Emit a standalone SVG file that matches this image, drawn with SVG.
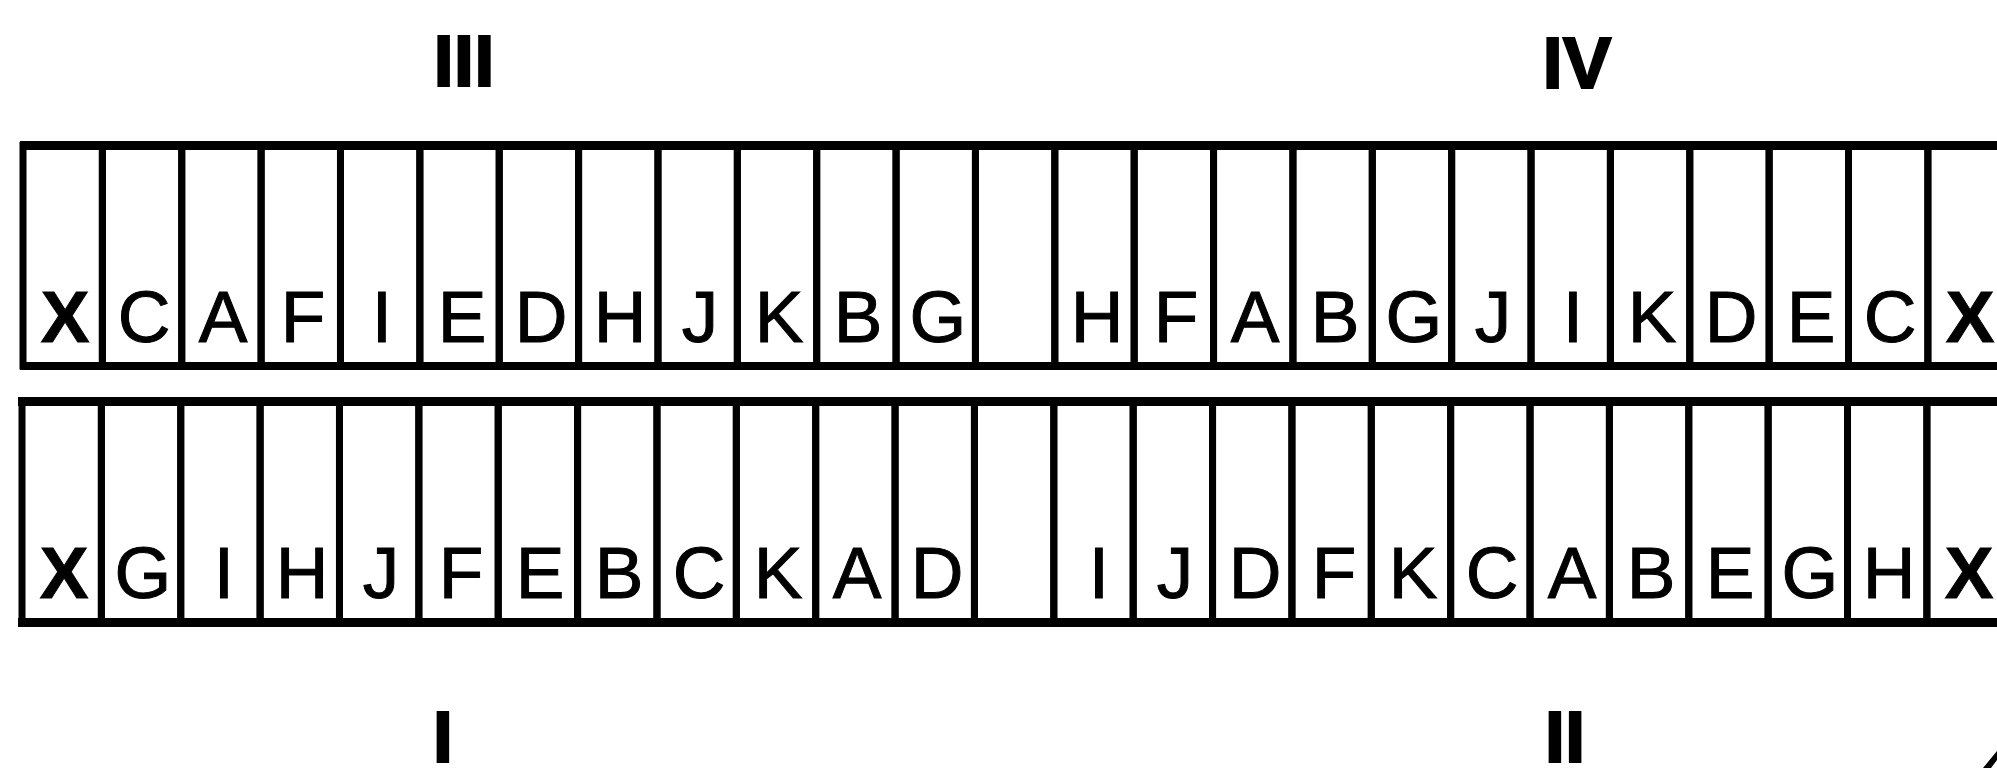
<svg xmlns="http://www.w3.org/2000/svg" width="1997" height="768" viewBox="0 0 1997 768">
<style>
.cell{fill:none;stroke:#000;stroke-width:7}
.band{fill:#000}
.lbl{font-family:"Liberation Sans",Arial,sans-serif;font-size:73px;text-anchor:middle;fill:#000;stroke:#000;stroke-width:1}
.bx{font-weight:bold}
.num{font-family:"Liberation Sans",Arial,sans-serif;font-size:73px;font-weight:bold;text-anchor:middle;fill:#000;stroke:#000;stroke-width:2}
</style>
<rect width="1997" height="768" fill="#fff"/>
<g id="labels">
<text class="num" x="464" y="86">III</text>
<text class="num" x="1577" y="88">IV</text>
<text class="num" x="443" y="762">I</text>
<text class="num" x="1565" y="762">II</text>
</g>
<g id="strip-top">
<rect class="band" x="20" y="141" width="1990" height="9"/>
<rect class="band" x="20" y="362" width="1990" height="8"/>
<g id="t1"><rect class="cell" x="23" y="145.5" width="79.37" height="220.5"/><text class="lbl bx" x="65" y="342">X</text></g>
<g id="t2"><rect class="cell" x="102.37" y="145.5" width="79.37" height="220.5"/><text class="lbl" x="144" y="342">C</text></g>
<g id="t3"><rect class="cell" x="181.74" y="145.5" width="79.37" height="220.5"/><text class="lbl" x="223" y="342">A</text></g>
<g id="t4"><rect class="cell" x="261.11" y="145.5" width="79.37" height="220.5"/><text class="lbl" x="303" y="342">F</text></g>
<g id="t5"><rect class="cell" x="340.48" y="145.5" width="79.37" height="220.5"/><text class="lbl" x="382" y="342">I</text></g>
<g id="t6"><rect class="cell" x="419.85" y="145.5" width="79.37" height="220.5"/><text class="lbl" x="462" y="342">E</text></g>
<g id="t7"><rect class="cell" x="499.22" y="145.5" width="79.37" height="220.5"/><text class="lbl" x="541" y="342">D</text></g>
<g id="t8"><rect class="cell" x="578.59" y="145.5" width="79.37" height="220.5"/><text class="lbl" x="620" y="342">H</text></g>
<g id="t9"><rect class="cell" x="657.96" y="145.5" width="79.37" height="220.5"/><text class="lbl" x="700" y="342">J</text></g>
<g id="t10"><rect class="cell" x="737.33" y="145.5" width="79.37" height="220.5"/><text class="lbl" x="779" y="342">K</text></g>
<g id="t11"><rect class="cell" x="816.7" y="145.5" width="79.37" height="220.5"/><text class="lbl" x="858" y="342">B</text></g>
<g id="t12"><rect class="cell" x="896.07" y="145.5" width="79.37" height="220.5"/><text class="lbl" x="938" y="342">G</text></g>
<g id="t13"><rect class="cell" x="975.44" y="145.5" width="79.37" height="220.5"/></g>
<g id="t14"><rect class="cell" x="1054.81" y="145.5" width="79.37" height="220.5"/><text class="lbl" x="1097" y="342">H</text></g>
<g id="t15"><rect class="cell" x="1134.18" y="145.5" width="79.37" height="220.5"/><text class="lbl" x="1176" y="342">F</text></g>
<g id="t16"><rect class="cell" x="1213.55" y="145.5" width="79.37" height="220.5"/><text class="lbl" x="1255" y="342">A</text></g>
<g id="t17"><rect class="cell" x="1292.92" y="145.5" width="79.37" height="220.5"/><text class="lbl" x="1335" y="342">B</text></g>
<g id="t18"><rect class="cell" x="1372.29" y="145.5" width="79.37" height="220.5"/><text class="lbl" x="1414" y="342">G</text></g>
<g id="t19"><rect class="cell" x="1451.66" y="145.5" width="79.37" height="220.5"/><text class="lbl" x="1493" y="342">J</text></g>
<g id="t20"><rect class="cell" x="1531.03" y="145.5" width="79.37" height="220.5"/><text class="lbl" x="1573" y="342">I</text></g>
<g id="t21"><rect class="cell" x="1610.4" y="145.5" width="79.37" height="220.5"/><text class="lbl" x="1652" y="342">K</text></g>
<g id="t22"><rect class="cell" x="1689.77" y="145.5" width="79.37" height="220.5"/><text class="lbl" x="1731" y="342">D</text></g>
<g id="t23"><rect class="cell" x="1769.14" y="145.5" width="79.37" height="220.5"/><text class="lbl" x="1811" y="342">E</text></g>
<g id="t24"><rect class="cell" x="1848.51" y="145.5" width="79.37" height="220.5"/><text class="lbl" x="1890" y="342">C</text></g>
<g id="t25"><rect class="cell" x="1927.88" y="145.5" width="79.37" height="220.5"/><text class="lbl bx" x="1970" y="342">X</text></g>
</g>
<g id="strip-bottom">
<rect class="band" x="18" y="397" width="1992" height="9"/>
<rect class="band" x="18" y="618" width="1992" height="9"/>
<g id="b1"><rect class="cell" x="22" y="401.5" width="79.37" height="221"/><text class="lbl bx" x="64" y="598">X</text></g>
<g id="b2"><rect class="cell" x="101.37" y="401.5" width="79.37" height="221"/><text class="lbl" x="143" y="598">G</text></g>
<g id="b3"><rect class="cell" x="180.74" y="401.5" width="79.37" height="221"/><text class="lbl" x="224" y="598">I</text></g>
<g id="b4"><rect class="cell" x="260.11" y="401.5" width="79.37" height="221"/><text class="lbl" x="302" y="598">H</text></g>
<g id="b5"><rect class="cell" x="339.48" y="401.5" width="79.37" height="221"/><text class="lbl" x="381" y="598">J</text></g>
<g id="b6"><rect class="cell" x="418.85" y="401.5" width="79.37" height="221"/><text class="lbl" x="461" y="598">F</text></g>
<g id="b7"><rect class="cell" x="498.22" y="401.5" width="79.37" height="221"/><text class="lbl" x="540" y="598">E</text></g>
<g id="b8"><rect class="cell" x="577.59" y="401.5" width="79.37" height="221"/><text class="lbl" x="619" y="598">B</text></g>
<g id="b9"><rect class="cell" x="656.96" y="401.5" width="79.37" height="221"/><text class="lbl" x="699" y="598">C</text></g>
<g id="b10"><rect class="cell" x="736.33" y="401.5" width="79.37" height="221"/><text class="lbl" x="778" y="598">K</text></g>
<g id="b11"><rect class="cell" x="815.7" y="401.5" width="79.37" height="221"/><text class="lbl" x="857" y="598">A</text></g>
<g id="b12"><rect class="cell" x="895.07" y="401.5" width="79.37" height="221"/><text class="lbl" x="937" y="598">D</text></g>
<g id="b13"><rect class="cell" x="974.44" y="401.5" width="79.37" height="221"/></g>
<g id="b14"><rect class="cell" x="1053.81" y="401.5" width="79.37" height="221"/><text class="lbl" x="1099" y="598">I</text></g>
<g id="b15"><rect class="cell" x="1133.18" y="401.5" width="79.37" height="221"/><text class="lbl" x="1175" y="598">J</text></g>
<g id="b16"><rect class="cell" x="1212.55" y="401.5" width="79.37" height="221"/><text class="lbl" x="1255" y="598">D</text></g>
<g id="b17"><rect class="cell" x="1291.92" y="401.5" width="79.37" height="221"/><text class="lbl" x="1334" y="598">F</text></g>
<g id="b18"><rect class="cell" x="1371.29" y="401.5" width="79.37" height="221"/><text class="lbl" x="1413" y="598">K</text></g>
<g id="b19"><rect class="cell" x="1450.66" y="401.5" width="79.37" height="221"/><text class="lbl" x="1492" y="598">C</text></g>
<g id="b20"><rect class="cell" x="1530.03" y="401.5" width="79.37" height="221"/><text class="lbl" x="1572" y="598">A</text></g>
<g id="b21"><rect class="cell" x="1609.4" y="401.5" width="79.37" height="221"/><text class="lbl" x="1651" y="598">B</text></g>
<g id="b22"><rect class="cell" x="1688.77" y="401.5" width="79.37" height="221"/><text class="lbl" x="1730" y="598">E</text></g>
<g id="b23"><rect class="cell" x="1768.14" y="401.5" width="79.37" height="221"/><text class="lbl" x="1810" y="598">G</text></g>
<g id="b24"><rect class="cell" x="1847.51" y="401.5" width="79.37" height="221"/><text class="lbl" x="1889" y="598">H</text></g>
<g id="b25"><rect class="cell" x="1926.88" y="401.5" width="79.37" height="221"/><text class="lbl bx" x="1969" y="598">X</text></g>
</g>
<g id="connectors">
<polygon points="1983,768 1997,751 1997,760 1991,768" fill="#000"/>
</g>
</svg>
